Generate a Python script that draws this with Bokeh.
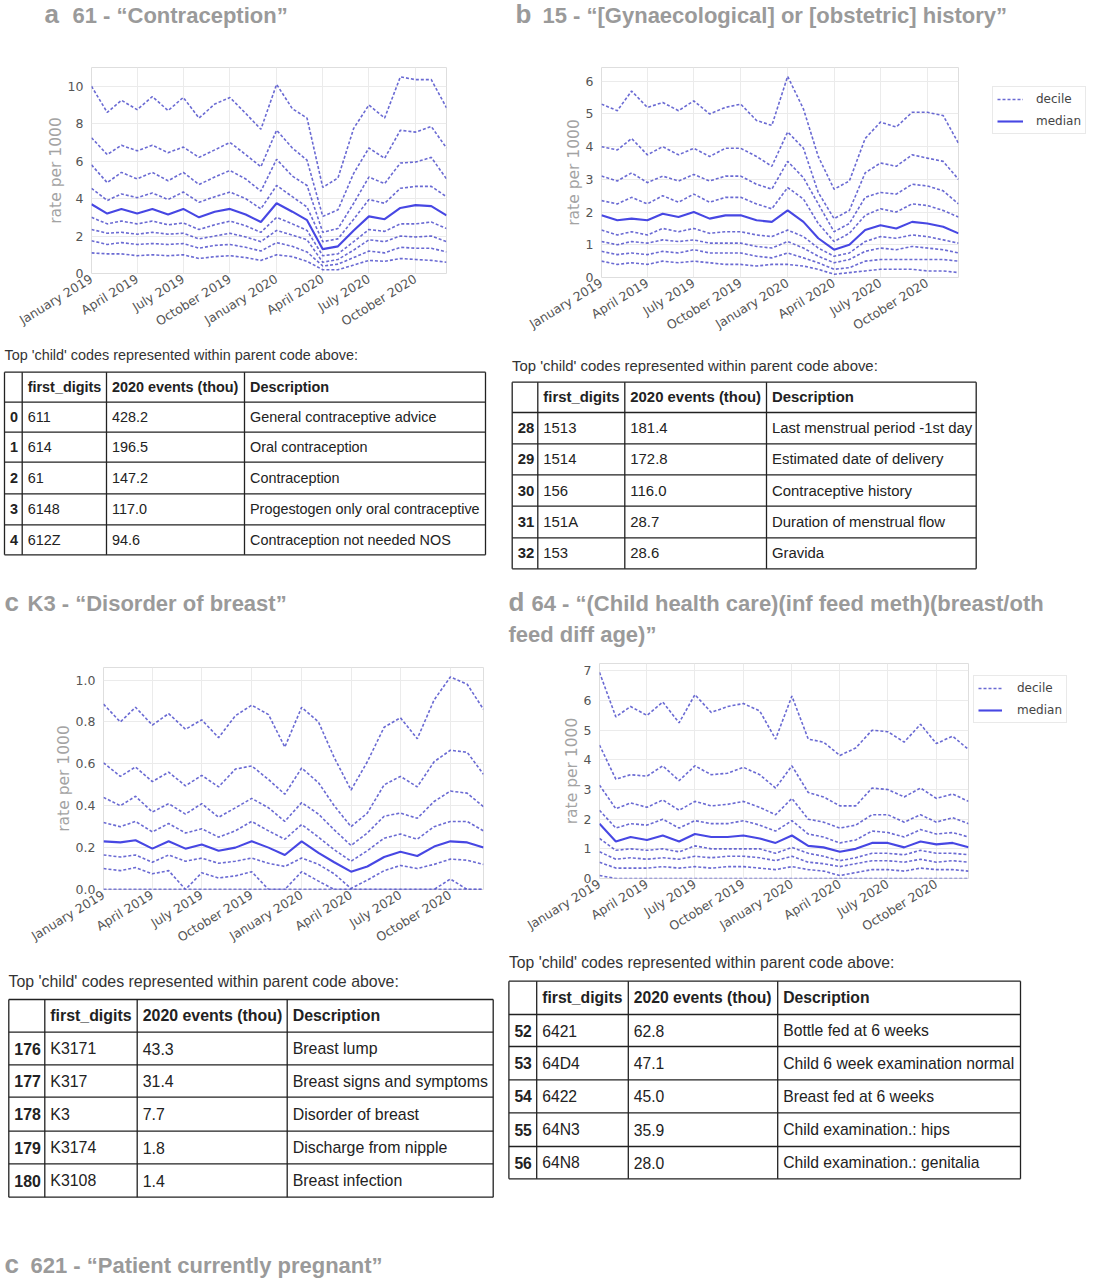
import pandas as pd
from bokeh.plotting import figure
from bokeh.layouts import column, row
from bokeh.models import (Range1d, FixedTicker, SingleIntervalTicker, NumeralTickFormatter,
                          Legend, LegendItem)
from bokeh.core.properties import value
from bokeh.embed import file_html
from bokeh.resources import INLINE

# ---- data -------------------------------------------------------------
months = pd.date_range("2019-01-01", periods=24, freq="MS")
tick_months = ["2019-01-01", "2019-04-01", "2019-07-01", "2019-10-01",
               "2020-01-01", "2020-04-01", "2020-07-01", "2020-10-01"]
tick_labels = ["January 2019", "April 2019", "July 2019", "October 2019",
               "January 2020", "April 2020", "July 2020", "October 2020"]

# a  61 - Contraception
a_p90 = [10.0, 8.6, 9.25, 8.75, 9.45, 8.7, 9.4, 8.3, 9.05, 9.4, 8.55, 7.7, 10.1, 8.8, 8.3, 4.6, 5.1, 7.75, 9.0, 8.3, 10.5, 10.35, 10.35, 8.85]
a_p80 = [7.25, 6.35, 6.85, 6.55, 6.85, 6.45, 6.75, 6.2, 6.6, 7.0, 6.35, 5.7, 7.65, 6.7, 6.05, 3.05, 3.4, 5.35, 6.7, 6.15, 7.65, 7.55, 7.85, 6.7]
a_p70 = [5.8, 4.85, 5.4, 5.05, 5.4, 4.95, 5.4, 4.75, 5.15, 5.5, 5.05, 4.4, 6.1, 5.2, 4.7, 2.2, 2.4, 3.75, 5.15, 4.8, 5.9, 5.95, 6.2, 5.05]
a_p60 = [4.55, 3.9, 4.25, 4.05, 4.3, 3.95, 4.35, 3.8, 4.1, 4.35, 4.0, 3.45, 4.7, 4.1, 3.55, 1.7, 1.85, 2.9, 3.95, 3.75, 4.55, 4.65, 4.65, 4.1]
a_med = [3.7, 3.2, 3.45, 3.2, 3.45, 3.15, 3.45, 3.0, 3.3, 3.45, 3.15, 2.75, 3.75, 3.3, 2.85, 1.3, 1.45, 2.3, 3.05, 2.9, 3.5, 3.65, 3.6, 3.1]
a_p40 = [3.0, 2.65, 2.8, 2.65, 2.8, 2.6, 2.7, 2.35, 2.6, 2.8, 2.55, 2.2, 3.0, 2.65, 2.3, 0.95, 1.05, 1.7, 2.35, 2.25, 2.65, 2.65, 2.75, 2.4]
a_p30 = [2.35, 2.15, 2.2, 2.1, 2.2, 2.1, 2.15, 1.85, 2.0, 2.15, 1.95, 1.7, 2.3, 2.05, 1.8, 0.6, 0.75, 1.25, 1.8, 1.7, 2.0, 1.95, 2.0, 1.7]
a_p20 = [1.75, 1.55, 1.65, 1.55, 1.6, 1.55, 1.6, 1.35, 1.5, 1.55, 1.4, 1.2, 1.65, 1.45, 1.15, 0.4, 0.5, 0.85, 1.2, 1.1, 1.4, 1.35, 1.35, 1.15]
a_p10 = [1.1, 1.05, 1.05, 0.95, 1.0, 0.95, 1.0, 0.8, 0.9, 0.95, 0.85, 0.7, 1.0, 0.9, 0.65, 0.2, 0.2, 0.45, 0.7, 0.65, 0.8, 0.75, 0.7, 0.6]

# b  15 - Gynaecological or obstetric history
b_p90 = [5.3, 5.1, 5.7, 5.2, 5.35, 5.1, 5.4, 5.0, 5.2, 5.3, 4.8, 4.65, 6.15, 5.15, 3.7, 2.7, 2.95, 4.25, 4.75, 4.6, 5.05, 5.05, 4.95, 4.1]
b_p80 = [4.0, 3.9, 4.25, 3.75, 4.0, 3.75, 3.95, 3.7, 3.95, 3.95, 3.7, 3.4, 4.45, 3.95, 2.6, 1.8, 2.05, 3.2, 3.5, 3.4, 3.75, 3.65, 3.55, 3.0]
b_p70 = [3.1, 2.95, 3.2, 2.9, 3.1, 2.95, 3.15, 2.95, 3.1, 3.1, 2.85, 2.7, 3.55, 3.05, 2.25, 1.4, 1.65, 2.45, 2.6, 2.55, 2.85, 2.8, 2.65, 2.25]
b_p60 = [2.35, 2.25, 2.45, 2.25, 2.5, 2.3, 2.55, 2.3, 2.45, 2.45, 2.25, 2.1, 2.75, 2.4, 1.65, 1.1, 1.35, 1.9, 2.1, 2.0, 2.25, 2.2, 2.05, 1.85]
b_med = [1.9, 1.75, 1.8, 1.75, 1.95, 1.85, 2.0, 1.8, 1.9, 1.9, 1.75, 1.7, 2.05, 1.7, 1.2, 0.85, 1.0, 1.45, 1.6, 1.5, 1.7, 1.65, 1.55, 1.35]
b_p40 = [1.45, 1.3, 1.4, 1.3, 1.5, 1.4, 1.5, 1.35, 1.4, 1.4, 1.3, 1.25, 1.45, 1.25, 0.9, 0.65, 0.75, 1.1, 1.25, 1.2, 1.3, 1.25, 1.15, 1.05]
b_p30 = [1.1, 1.0, 1.1, 1.05, 1.15, 1.1, 1.15, 1.05, 1.05, 1.05, 0.95, 0.9, 1.1, 0.9, 0.65, 0.45, 0.55, 0.8, 0.9, 0.85, 0.95, 0.9, 0.85, 0.75]
b_p20 = [0.8, 0.7, 0.75, 0.7, 0.8, 0.75, 0.85, 0.75, 0.75, 0.75, 0.65, 0.6, 0.75, 0.6, 0.45, 0.25, 0.3, 0.5, 0.55, 0.55, 0.55, 0.55, 0.55, 0.5]
b_p10 = [0.5, 0.4, 0.45, 0.4, 0.5, 0.45, 0.5, 0.45, 0.4, 0.4, 0.35, 0.4, 0.4, 0.35, 0.25, 0.1, 0.15, 0.2, 0.25, 0.25, 0.25, 0.2, 0.2, 0.15]

# c  K3 - Disorder of breast
c_p90 = [0.885, 0.8, 0.87, 0.785, 0.84, 0.765, 0.81, 0.725, 0.83, 0.88, 0.835, 0.68, 0.87, 0.8, 0.63, 0.475, 0.61, 0.775, 0.82, 0.72, 0.905, 1.015, 0.98, 0.86]
c_p80 = [0.605, 0.54, 0.585, 0.515, 0.56, 0.495, 0.545, 0.49, 0.575, 0.59, 0.525, 0.455, 0.58, 0.51, 0.4, 0.3, 0.365, 0.5, 0.54, 0.49, 0.61, 0.665, 0.655, 0.55]
c_p70 = [0.44, 0.4, 0.445, 0.37, 0.41, 0.36, 0.41, 0.345, 0.39, 0.435, 0.39, 0.325, 0.415, 0.36, 0.285, 0.21, 0.27, 0.35, 0.365, 0.34, 0.42, 0.47, 0.46, 0.395]
c_p60 = [0.32, 0.3, 0.325, 0.275, 0.315, 0.27, 0.29, 0.25, 0.28, 0.325, 0.28, 0.24, 0.31, 0.25, 0.19, 0.135, 0.185, 0.245, 0.265, 0.24, 0.3, 0.325, 0.325, 0.28]
c_med = [0.23, 0.225, 0.235, 0.195, 0.23, 0.195, 0.215, 0.185, 0.2, 0.23, 0.2, 0.165, 0.23, 0.175, 0.13, 0.085, 0.11, 0.155, 0.18, 0.16, 0.205, 0.23, 0.225, 0.2]
c_p40 = [0.165, 0.155, 0.165, 0.13, 0.165, 0.135, 0.15, 0.125, 0.135, 0.15, 0.125, 0.11, 0.15, 0.12, 0.075, 0.005, 0.045, 0.09, 0.115, 0.1, 0.12, 0.145, 0.14, 0.12]
c_p30 = [0.1, 0.09, 0.105, 0.075, 0.09, 0.0, 0.08, 0.055, 0.065, 0.085, 0.0, 0.0, 0.085, 0.04, 0.0, 0.0, 0.0, 0.0, 0.0, 0.0, 0.0, 0.05, 0.0, 0.0]
c_p20 = [0.0, 0.0, 0.0, 0.0, 0.0, 0.0, 0.0, 0.0, 0.0, 0.0, 0.0, 0.0, 0.0, 0.0, 0.0, 0.0, 0.0, 0.0, 0.0, 0.0, 0.0, 0.0, 0.0, 0.0]
c_p10 = [0.0, 0.0, 0.0, 0.0, 0.0, 0.0, 0.0, 0.0, 0.0, 0.0, 0.0, 0.0, 0.0, 0.0, 0.0, 0.0, 0.0, 0.0, 0.0, 0.0, 0.0, 0.0, 0.0, 0.0]

# d  64 - Child health care, infant feeding
d_p90 = [6.95, 5.45, 5.8, 5.5, 5.95, 5.25, 6.2, 5.6, 5.8, 5.9, 5.65, 4.7, 6.15, 4.7, 4.6, 4.15, 4.4, 5.0, 4.95, 4.6, 5.2, 4.55, 4.8, 4.35]
d_p80 = [4.5, 3.35, 3.5, 3.45, 3.8, 3.3, 3.8, 3.5, 3.55, 3.75, 3.5, 3.05, 3.8, 2.9, 2.75, 2.45, 2.45, 3.05, 3.0, 2.75, 3.05, 2.7, 2.85, 2.6]
d_p70 = [3.15, 2.35, 2.55, 2.4, 2.65, 2.3, 2.6, 2.45, 2.5, 2.6, 2.4, 2.15, 2.7, 2.0, 1.9, 1.7, 1.8, 2.15, 2.15, 1.9, 2.15, 1.9, 2.05, 1.85]
d_p60 = [2.3, 1.7, 1.85, 1.8, 2.0, 1.7, 1.95, 1.85, 1.85, 1.95, 1.8, 1.6, 1.95, 1.5, 1.4, 1.2, 1.3, 1.6, 1.55, 1.4, 1.65, 1.5, 1.55, 1.4]
d_med = [1.85, 1.25, 1.4, 1.3, 1.45, 1.25, 1.5, 1.4, 1.4, 1.45, 1.35, 1.2, 1.45, 1.1, 1.05, 0.9, 1.0, 1.2, 1.2, 1.05, 1.25, 1.15, 1.2, 1.05]
d_p40 = [1.35, 0.95, 1.0, 0.95, 1.0, 0.9, 1.1, 1.0, 1.0, 1.0, 1.0, 0.85, 1.05, 0.85, 0.75, 0.6, 0.7, 0.85, 0.85, 0.8, 0.95, 0.85, 0.85, 0.8]
d_p30 = [0.9, 0.65, 0.7, 0.65, 0.7, 0.65, 0.75, 0.7, 0.75, 0.75, 0.7, 0.6, 0.75, 0.55, 0.5, 0.4, 0.5, 0.6, 0.6, 0.55, 0.65, 0.55, 0.6, 0.55]
d_p20 = [0.55, 0.35, 0.35, 0.35, 0.4, 0.35, 0.4, 0.35, 0.4, 0.4, 0.35, 0.3, 0.4, 0.3, 0.25, 0.1, 0.2, 0.3, 0.3, 0.25, 0.35, 0.3, 0.3, 0.25]
d_p10 = [0.1, 0.0, 0.0, 0.0, 0.0, 0.0, 0.0, 0.0, 0.0, 0.0, 0.0, 0.0, 0.0, 0.0, 0.0, 0.0, 0.0, 0.0, 0.0, 0.0, 0.0, 0.0, 0.0, 0.0]

# tables
headers = ["", "first_digits", "2020 events (thou)", "Description"]
note = "Top 'child' codes represented within parent code above:"

a_idx = ["0", "1", "2", "3", "4"]
a_codes = ["611", "614", "61", "6148", "612Z"]
a_events = [428.2, 196.5, 147.2, 117.0, 94.6]
a_desc = ["General contraceptive advice", "Oral contraception", "Contraception",
          "Progestogen only oral contraceptive", "Contraception not needed NOS"]

b_idx = ["28", "29", "30", "31", "32"]
b_codes = ["1513", "1514", "156", "151A", "153"]
b_events = [181.4, 172.8, 116.0, 28.7, 28.6]
b_desc = ["Last menstrual period -1st day", "Estimated date of delivery",
          "Contraceptive history", "Duration of menstrual flow", "Gravida"]

c_idx = ["176", "177", "178", "179", "180"]
c_codes = ["K3171", "K317", "K3", "K3174", "K3108"]
c_events = [43.3, 31.4, 7.7, 1.8, 1.4]
c_desc = ["Breast lump", "Breast signs and symptoms", "Disorder of breast",
          "Discharge from nipple", "Breast infection"]

d_idx = ["52", "53", "54", "55", "56"]
d_codes = ["6421", "64D4", "6422", "64N3", "64N8"]
d_events = [62.8, 47.1, 45.0, 35.9, 28.0]
d_desc = ["Bottle fed at 6 weeks", "Child 6 week examination normal", "Breast fed at 6 weeks",
          "Child examination.: hips", "Child examination.: genitalia"]

# ---- helpers ----------------------------------------------------------
SANS = value("Liberation Sans")
TITLE_GREY = "#9a9a9a"
DEC_COLOR = "#4545c8"
MED_COLOR = "#3333e0"
DEC_STYLE = dict(line_color=DEC_COLOR, line_alpha=0.8, line_width=1.6, line_dash="3 2")
MED_STYLE = dict(line_color=MED_COLOR, line_alpha=0.9, line_width=2.1)

tick_ms = [int(pd.Timestamp(m).value // 10**6) for m in tick_months]


def canvas(w, h):
    c = figure(width=w, height=h, x_range=Range1d(0, w), y_range=Range1d(h, 0),
               x_axis_location=None, y_axis_location=None, frame_align=False,
               output_backend="svg", toolbar_location=None, min_border=0)
    c.grid.visible = False
    c.outline_line_color = None
    return c


def title(c, letter, lx, parts, y0):
    # y values are the vertical centres of the capital letters
    c.text(x=[lx], y=[y0 - 1.4], text=[letter], text_font=SANS, text_font_size="26px",
           text_font_style="bold", text_color=TITLE_GREY, text_baseline="middle")
    for (tx, ty, txt) in parts:
        c.text(x=[tx], y=[ty], text=[txt], text_font=SANS, text_font_size="22px",
               text_font_style="bold", text_color=TITLE_GREY, text_baseline="middle")


def table(c, rows_y, cols_x, idx, codes, events, descs, fs, note_xy):
    fsz = "%.1fpx" % fs
    c.text(x=[note_xy[0]], y=[note_xy[1]], text=[note], text_font=SANS, text_font_size=fsz,
           text_color="#333333", text_baseline="middle")
    n, m = len(rows_y), len(cols_x)
    c.segment(x0=[cols_x[0]] * n, y0=rows_y, x1=[cols_x[-1]] * n, y1=rows_y,
              line_color="#222222", line_width=1.3)
    c.segment(x0=cols_x, y0=[rows_y[0]] * m, x1=cols_x, y1=[rows_y[-1]] * m,
              line_color="#222222", line_width=1.3)
    mid = [(rows_y[i] + rows_y[i + 1]) / 2 for i in range(n - 1)]
    pad = 5.5
    c.text(x=[x + pad for x in cols_x[1:4]], y=[mid[0]] * 3, text=headers[1:], text_font=SANS,
           text_font_size=fsz, text_font_style="bold", text_color="#222222", text_baseline="middle")
    body = mid[1:]
    c.text(x=[cols_x[0] + pad] * len(idx), y=body, text=idx, text_font=SANS, text_font_size=fsz,
           text_font_style="bold", text_color="#222222", text_baseline="middle")
    cols = [codes, ["%.1f" % v for v in events], descs]
    for j, col in enumerate(cols, start=1):
        c.text(x=[cols_x[j] + pad] * len(col), y=body, text=col, text_font=SANS, text_font_size=fsz,
               text_color="#222222", text_baseline="middle")


def chart(w, h, left, top, fw, fh, ymax, ystep, deciles, median, fmt=None):
    p = figure(width=w, height=h, x_axis_type="datetime",
               x_range=Range1d(months[0], months[-1]), y_range=Range1d(0, ymax),
               output_backend="svg", toolbar_location=None, frame_align=False,
               min_border_left=left, min_border_top=top,
               min_border_right=w - left - fw, min_border_bottom=h - top - fh)
    p.outline_line_color = "#dedede"
    p.grid.grid_line_color = "#ebebeb"
    p.xaxis.ticker = FixedTicker(ticks=tick_ms)
    p.xaxis.major_label_overrides = dict(zip(tick_ms, tick_labels))
    p.xaxis.major_label_orientation = 0.55
    p.yaxis.ticker = SingleIntervalTicker(interval=ystep, num_minor_ticks=0)
    if fmt:
        p.yaxis.formatter = NumeralTickFormatter(format=fmt)
    p.axis.axis_line_color = None
    p.axis.major_tick_line_color = None
    p.axis.minor_tick_line_color = None
    p.axis.major_tick_out = 0
    p.axis.major_label_text_font = "DejaVu Sans"
    p.axis.major_label_text_font_size = "12.5px"
    p.axis.major_label_text_color = "#555555"
    p.xaxis.major_label_standoff = 4
    p.yaxis.major_label_standoff = 8
    p.yaxis.axis_label = "rate per 1000"
    p.yaxis.axis_label_text_font = "DejaVu Sans"
    p.yaxis.axis_label_text_font_size = "15.5px"
    p.yaxis.axis_label_text_font_style = "normal"
    p.yaxis.axis_label_text_color = "#a3a3a3"
    p.yaxis.axis_label_standoff = 0

    for d in deciles:
        p.line(months, d, **DEC_STYLE)
    p.line(months, median, **MED_STYLE)
    return p


def legend_box(w, h, lx, ly, gw, st, dec, med):
    # legend sits beside the chart; its sample lines are hidden copies of the series
    c = canvas(w, h)
    r_dec = c.line(months, dec, visible=False, **DEC_STYLE)
    r_med = c.line(months, med, visible=False, **MED_STYLE)
    leg = Legend(items=[LegendItem(label="decile", renderers=[r_dec]),
                        LegendItem(label="median", renderers=[r_med])],
                 location=(lx, ly), glyph_width=gw, glyph_height=16, label_height=16,
                 label_standoff=st, spacing=6, padding=4, margin=0,
                 label_text_font="DejaVu Sans", label_text_font_size="12px",
                 label_text_color="#444444", border_line_color="#d4d4d4",
                 background_fill_color="white", background_fill_alpha=1.0)
    c.add_layout(leg)
    return c


# ---- panel a ----------------------------------------------------------
hdr_a = canvas(504, 45)
title(hdr_a, "a", 44, [(72, 14.5, "61 - \u201cContraception\u201d")], 14.5)
ch_a = chart(504, 300, 91, 22, 355, 206, 11.0, 2,
             [a_p10, a_p20, a_p30, a_p40, a_p60, a_p70, a_p80, a_p90], a_med)
tb_a = canvas(504, 235)
table(tb_a, [26.7, 56.7, 86.7, 116.7, 148.3, 179.3, 209.3], [4, 21.7, 106, 244, 485],
      a_idx, a_codes, a_events, a_desc, 14.4, (4, 9))

# ---- panel b ----------------------------------------------------------
hdr_b = canvas(583, 45)
title(hdr_b, "b", 11, [(38, 14.5, "15 - \u201c[Gynaecological] or [obstetric] history\u201d")], 14.5)
ch_b = chart(466, 307, 97, 22, 357, 210, 6.42, 1,
             [b_p10, b_p20, b_p30, b_p40, b_p60, b_p70, b_p80, b_p90], b_med)
lg_b = legend_box(117, 307, 22, 218, 26, 13, b_p90, b_med)
tb_b = canvas(583, 228)
table(tb_b, [29.7, 60, 91.3, 122.3, 153.7, 185.3, 216.3], [7.7, 33.3, 120.3, 262, 471.7],
      b_idx, b_codes, b_events, b_desc, 14.9, (7.5, 13))

# ---- panel c ----------------------------------------------------------
hdr_c = canvas(504, 70)
title(hdr_c, "c", 4, [(27, 23, "K3 - \u201cDisorder of breast\u201d")], 23)
ch_c = chart(504, 315, 103, 17, 380, 222, 1.06, 0.2,
             [c_p10, c_p20, c_p30, c_p40, c_p60, c_p70, c_p80, c_p90], c_med, fmt="0.0")
tb_c = canvas(504, 275)
table(tb_c, [34, 66.7, 99.3, 131.7, 165.7, 198.3, 231.7], [8.3, 44.3, 136.7, 286.7, 492.7],
      c_idx, c_codes, c_events, c_desc, 15.9, (8, 15.7))

# ---- panel d ----------------------------------------------------------
hdr_d = canvas(583, 70)
title(hdr_d, "d", 4, [(27, 23, "64 - \u201c(Child health care)(inf feed meth)(breast/oth"),
                      (4, 54, "feed diff age)\u201d")], 23)
ch_d = chart(468, 300, 95, 13, 369, 215, 7.25, 1,
             [d_p10, d_p20, d_p30, d_p40, d_p60, d_p70, d_p80, d_p90], d_med)
lg_d = legend_box(115, 300, 1, 227, 24, 15, d_p90, d_med)
tb_d = canvas(583, 290)
table(tb_d, [30.7, 64, 96, 129.3, 162.3, 196, 228.3], [4.4, 32.2, 123.8, 273.2, 516],
      d_idx, d_codes, d_events, d_desc, 15.7, (4.5, 11.7))

# ---- footer -----------------------------------------------------------
foot = canvas(1087, 38)
title(foot, "c", 4, [(30, 25, "621 - \u201cPatient currently pregnant\u201d")], 25)

page = column(row(column(hdr_a, ch_a, tb_a), column(hdr_b, row(ch_b, lg_b), tb_b)),
              row(column(hdr_c, ch_c, tb_c), column(hdr_d, row(ch_d, lg_d), tb_d)),
              foot)

open("out.html", "w").write(file_html(page, INLINE))
